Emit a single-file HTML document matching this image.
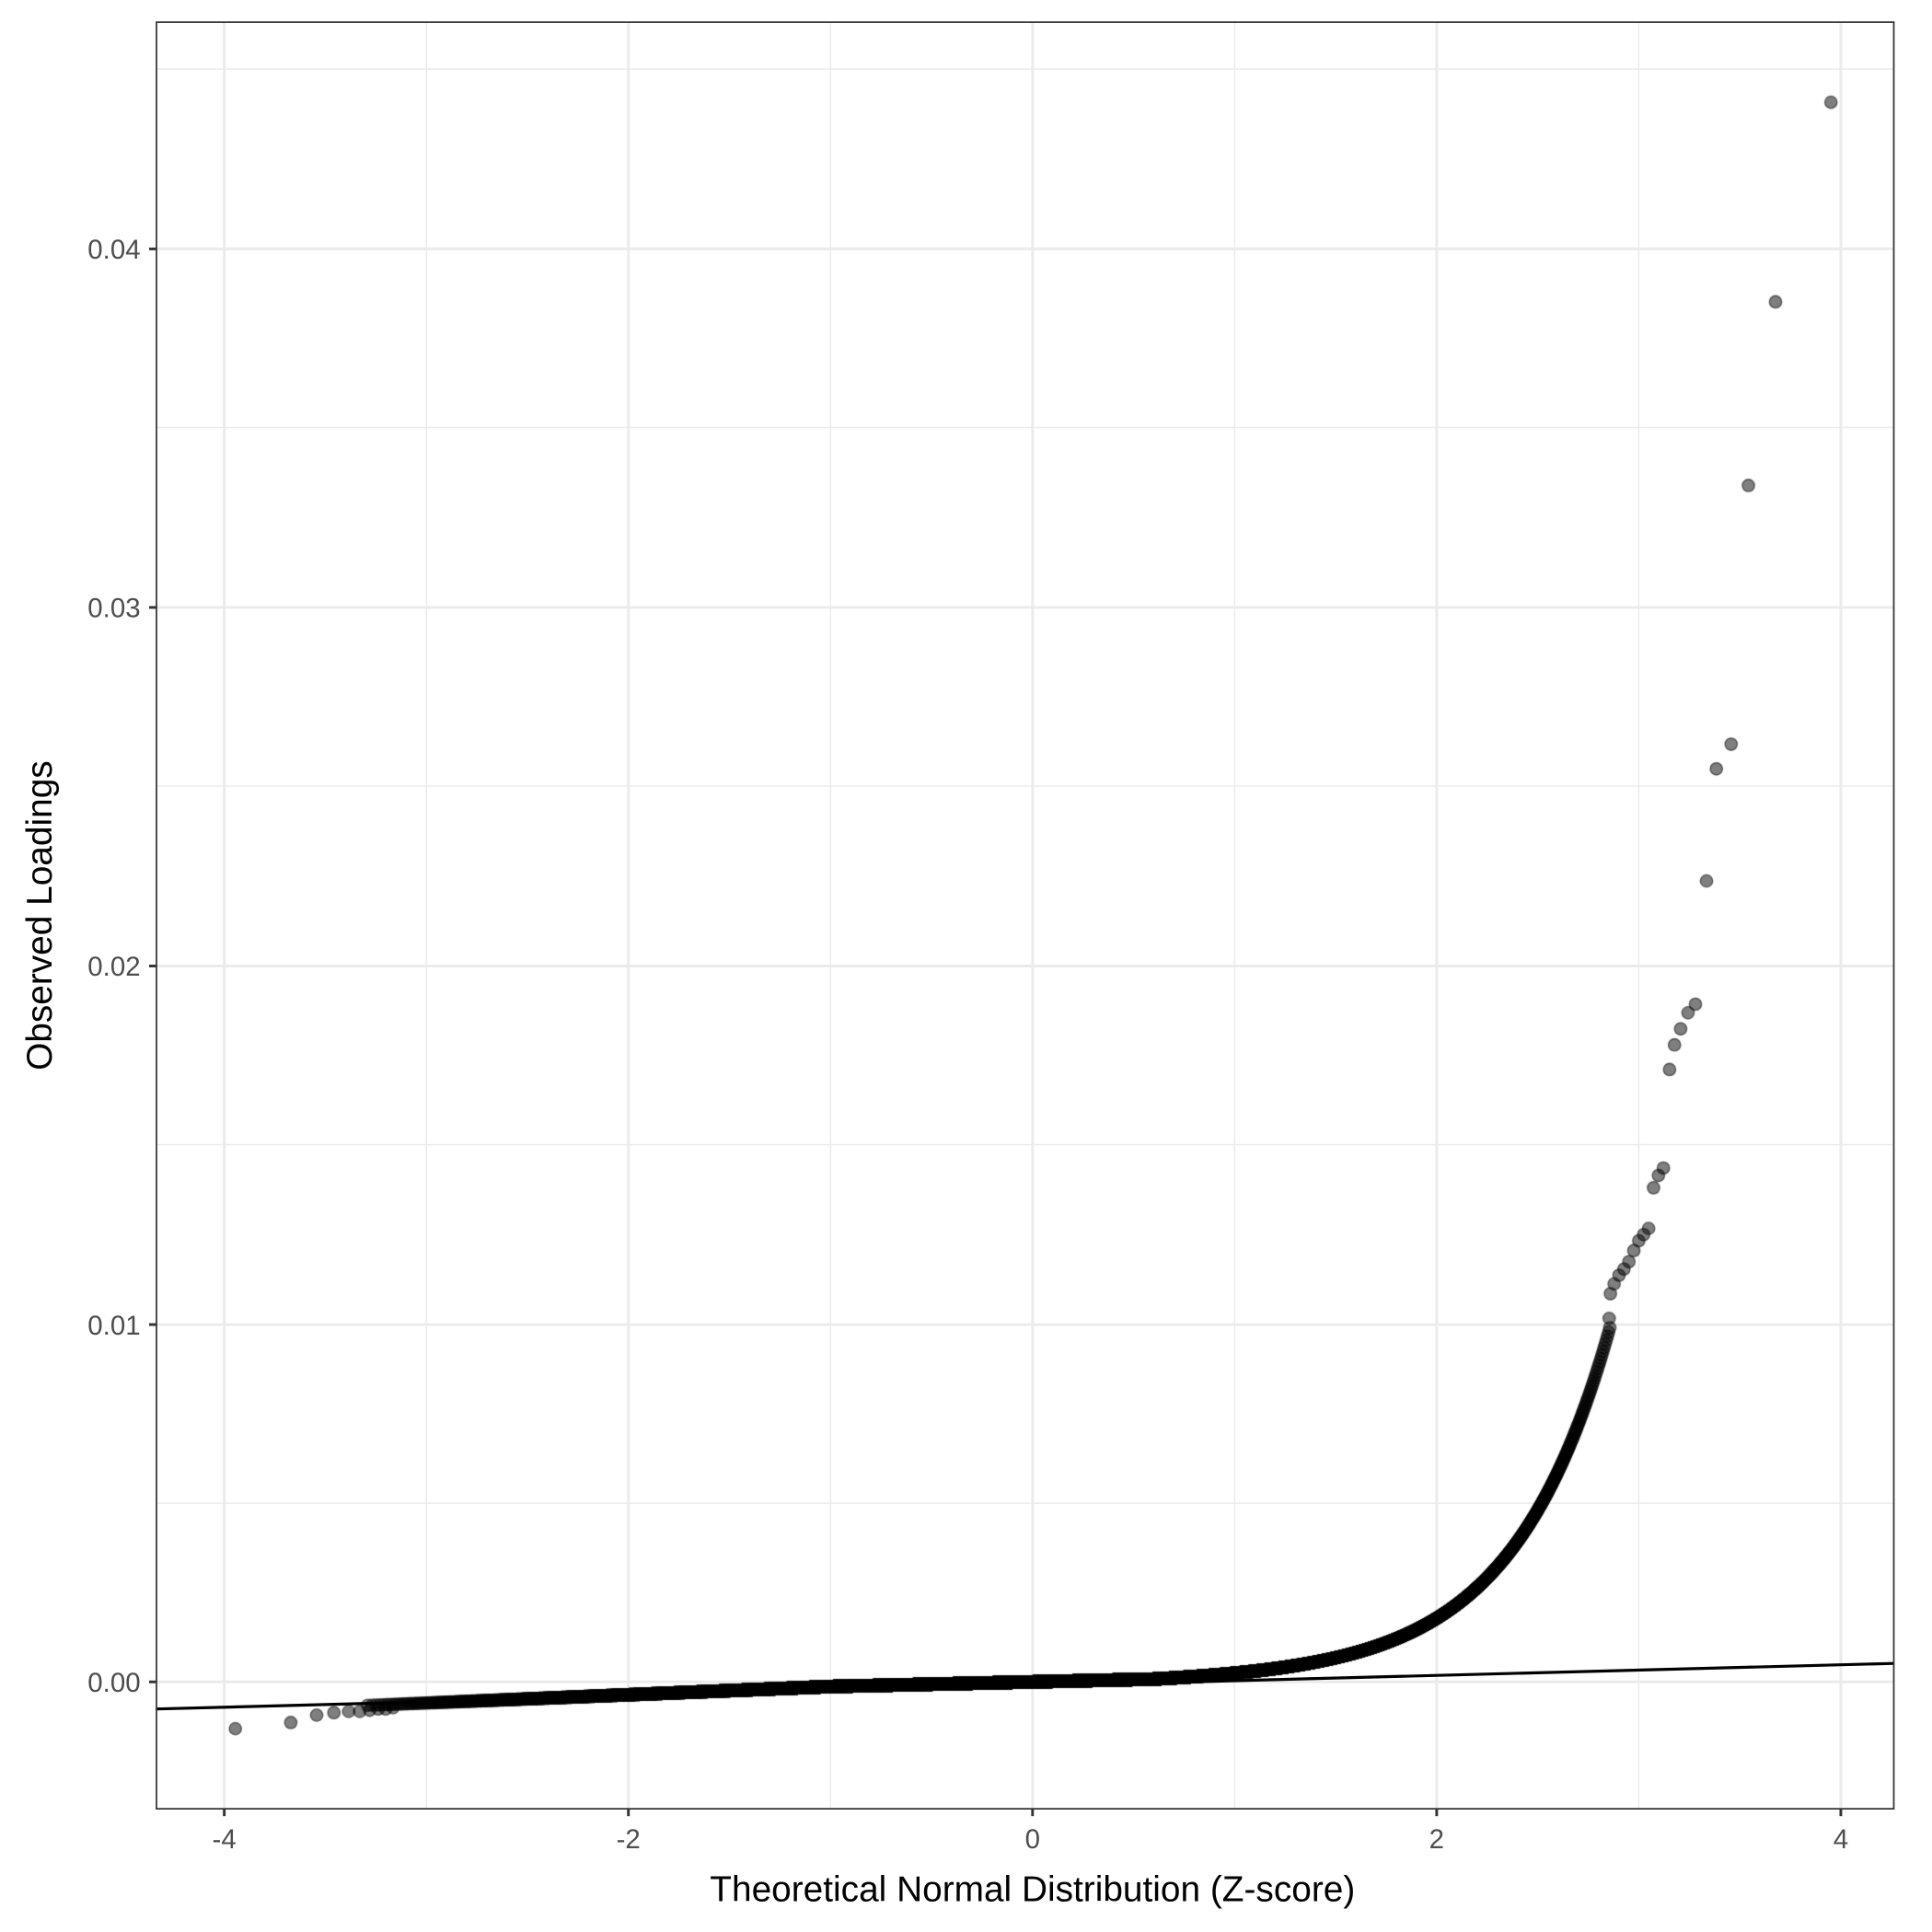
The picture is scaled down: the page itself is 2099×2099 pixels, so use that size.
<!DOCTYPE html>
<html><head><meta charset="utf-8"><style>
html,body{margin:0;padding:0;background:#fff;}
#w{position:relative;width:2099px;height:2099px;}
svg,canvas{position:absolute;left:0;top:0;}
</style></head><body><div id="w">
<svg width="2099" height="2099" viewBox="0 0 1568 1568" xmlns="http://www.w3.org/2000/svg">
<rect x="0" y="0" width="1568" height="1568" fill="#fff"/>
<g stroke="#ebebeb" stroke-width="1.1">
<line x1="127" x2="1537" y1="1220" y2="1220"/><line x1="127" x2="1537" y1="929" y2="929"/>
<line x1="127" x2="1537" y1="638" y2="638"/><line x1="127" x2="1537" y1="347" y2="347"/>
<line x1="127" x2="1537" y1="56" y2="56"/>
<line y1="18" y2="1468" x1="346" x2="346"/><line y1="18" y2="1468" x1="674" x2="674"/>
<line y1="18" y2="1468" x1="1002" x2="1002"/><line y1="18" y2="1468" x1="1330" x2="1330"/>
</g>
<g stroke="#ebebeb" stroke-width="2.2">
<line x1="127" x2="1537" y1="1365" y2="1365"/><line x1="127" x2="1537" y1="1075" y2="1075"/>
<line x1="127" x2="1537" y1="784" y2="784"/><line x1="127" x2="1537" y1="493" y2="493"/>
<line x1="127" x2="1537" y1="202" y2="202"/>
<line y1="18" y2="1468" x1="182" x2="182"/><line y1="18" y2="1468" x1="510" x2="510"/>
<line y1="18" y2="1468" x1="838" x2="838"/><line y1="18" y2="1468" x1="1166" x2="1166"/>
<line y1="18" y2="1468" x1="1494" x2="1494"/>
</g>
</svg>
<canvas id="c" width="2099" height="2099"></canvas>
<svg width="2099" height="2099" viewBox="0 0 1568 1568" xmlns="http://www.w3.org/2000/svg" style="pointer-events:none">
<line x1="127" y1="1387" x2="1537" y2="1350" stroke="#000" stroke-width="2.4"/>
<rect x="127" y="18" width="1410" height="1450" fill="none" stroke="#333" stroke-width="1.3"/>
<g stroke="#333" stroke-width="2.2">
<line x1="121" x2="127" y1="1365" y2="1365"/><line x1="121" x2="127" y1="1075" y2="1075"/>
<line x1="121" x2="127" y1="784" y2="784"/><line x1="121" x2="127" y1="493" y2="493"/>
<line x1="121" x2="127" y1="202" y2="202"/>
<line y1="1468" y2="1474" x1="182" x2="182"/><line y1="1468" y2="1474" x1="510" x2="510"/>
<line y1="1468" y2="1474" x1="838" x2="838"/><line y1="1468" y2="1474" x1="1166" x2="1166"/>
<line y1="1468" y2="1474" x1="1494" x2="1494"/>
</g>
<g font-family="Liberation Sans, sans-serif" font-size="22" fill="#4d4d4d" text-anchor="end">
<text x="114" y="1373">0.00</text><text x="114" y="1083">0.01</text>
<text x="114" y="792">0.02</text><text x="114" y="501">0.03</text><text x="114" y="210">0.04</text>
</g>
<g font-family="Liberation Sans, sans-serif" font-size="22" fill="#4d4d4d" text-anchor="middle">
<text x="182" y="1500">-4</text><text x="510" y="1500">-2</text><text x="838" y="1500">0</text>
<text x="1166" y="1500">2</text><text x="1494" y="1500">4</text>
</g>
<text x="838" y="1543" font-family="Liberation Sans, sans-serif" font-size="29" text-anchor="middle" fill="#000">Theoretical Normal Distribution (Z-score)</text>
<text transform="translate(42,743) rotate(-90)" font-family="Liberation Sans, sans-serif" font-size="29" text-anchor="middle" fill="#000">Observed Loadings</text>
</svg>
</div>
<script>
(function(){
var cv=document.getElementById('c'),ctx=cv.getContext('2d');
var s=2099/1568;ctx.scale(s,s);
ctx.beginPath();ctx.rect(127,18,1410,1450);ctx.clip();
function ninv(p){var a=[-39.6968302866538,220.946098424521,-275.928510446969,138.357751867269,-30.6647980661472,2.50662827745924],
b=[-54.4764958015861,161.585836858041,-155.698979859887,66.8013118877197,-13.2806815528857],
c=[-0.00778489400243029,-0.322396458041136,-2.40076714374933,-2.54973260955224,4.37466414146397,2.93816398269878],
d=[0.00778469570904146,0.32246712727439,2.445134137143,3.75440866190742];var q,r;
if(p<0.02425){q=Math.sqrt(-2*Math.log(p));return (((((c[0]*q+c[1])*q+c[2])*q+c[3])*q+c[4])*q+c[5])/((((d[0]*q+d[1])*q+d[2])*q+d[3])*q+1);}
if(p>1-0.02425){q=Math.sqrt(-2*Math.log(1-p));return -(((((c[0]*q+c[1])*q+c[2])*q+c[3])*q+c[4])*q+c[5])/((((d[0]*q+d[1])*q+d[2])*q+d[3])*q+1);}
q=p-0.5;r=q*q;return (((((a[0]*r+a[1])*r+a[2])*r+a[3])*r+a[4])*r+a[5])*q/(((((b[0]*r+b[1])*r+b[2])*r+b[3])*r+b[4])*r+1);}
function f(z){var y=0.00013*z;if(z<-1)y-=0.0001*(-1-z);if(z>0.6)y+=0.0000245*(Math.exp(2.09*z)-Math.exp(2.09*0.6));return y;}
function X(z){return 838+164*z;}function Y(v){return 1365-v*29075;}
ctx.fillStyle='rgba(0,0,0,0.5)';ctx.strokeStyle='rgba(0,0,0,0.55)';ctx.lineWidth=1;
function dot(x,y){ctx.beginPath();ctx.arc(x,y,5,0,6.2832);ctx.fill();ctx.stroke();}
var n=25000;
for(var i=1;i<=n;i++){var z=ninv((i-0.5)/n);if(z>2.86||z<-3.3)continue;dot(X(z),Y(f(z)));}
var pts=[[191,1403],[236,1398],[257,1392],[271,1390],[283,1389],[292,1389],[300,1388],[307,1387],[313,1387],[319,1386],
[1486,83],[1441,245],[1419,394],[1405,604],[1393,624],[1385,715],[1376,815],[1370,822],[1364,835],[1359,848],[1355,868],
[1350,948],[1346,954],[1342,964],[1338,997],[1334,1002],[1330,1007],[1326,1015],[1322,1024],[1318,1030],[1314,1035],[1310,1042],[1307,1050],[1306,1070]];
pts.forEach(function(p){dot(p[0],p[1]);});
})();
</script>
</body></html>
